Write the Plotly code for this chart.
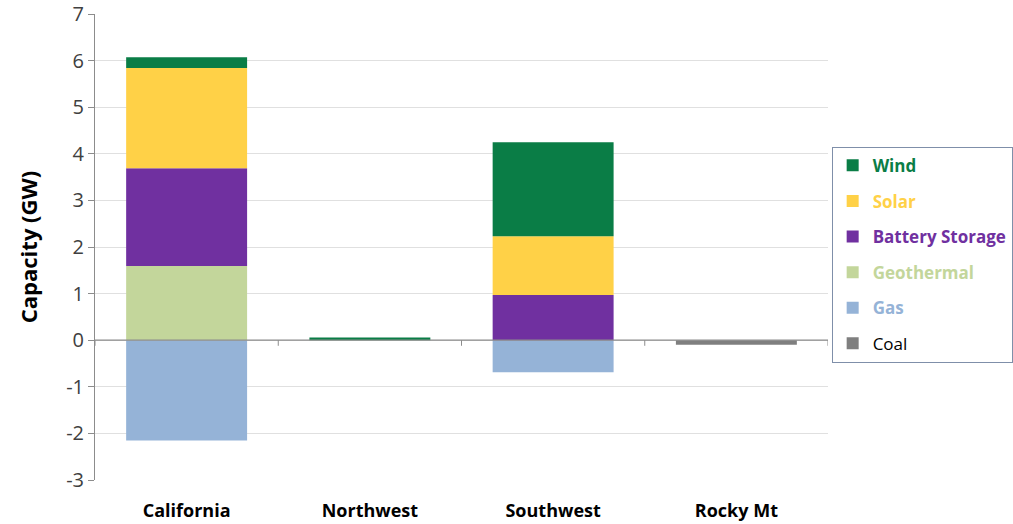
import plotly.graph_objects as go

regions = ["California", "Northwest", "Southwest", "Rocky Mt"]

# Capacity change by resource type (GW)
coal = [0, 0, 0, -0.10]
gas = [-2.15, 0, -0.69, 0]
geothermal = [1.59, 0, 0, 0]
battery = [2.10, 0, 0.97, 0]
solar = [2.15, 0, 1.26, 0]
wind = [0.23, 0.06, 2.02, 0]

y_ticks = [-3, -2, -1, 0, 1, 2, 3, 4, 5, 6, 7]
y_tick_labels = ["-3", "-2", "-1", "0", "1", "2", "3", "4", "5", "6", "7"]

# (name, values, fill, legend text colour, bold, legend rank)
series = [
    ("Coal", coal, "#7f7f7f", "#000000", False, 6),
    ("Gas", gas, "#95b3d7", "#95b3d7", True, 5),
    ("Geothermal", geothermal, "#c3d69b", "#c3d69b", True, 4),
    ("Battery Storage", battery, "#7030a0", "#7030a0", True, 3),
    ("Solar", solar, "#ffd147", "#ffd147", True, 2),
    ("Wind", wind, "#0a7d46", "#0a7d46", True, 1),
]

fig = go.Figure()
for name, vals, color, text_color, bold, rank in series:
    label = f"<b>{name}</b>" if bold else name
    fig.add_trace(go.Bar(
        x=regions,
        y=vals,
        name=f"<span style='color:{text_color}'>{label}</span>",
        marker=dict(color=color, line=dict(width=0)),
        legendgroup=name,
        legendrank=rank,
        width=0.66,
    ))

# zero line and category separators at the zero line
fig.add_shape(type="line", xref="paper", yref="y", x0=0, x1=1, y0=0, y1=0,
              line=dict(color="#8c8c8c", width=1.2), layer="above")
for i in range(len(regions) + 1):
    fig.add_shape(type="line", xref="x", yref="y", x0=i - 0.5, x1=i - 0.5,
                  y0=0, y1=-0.12, line=dict(color="#8c8c8c", width=1), layer="above")

fig.update_layout(
    width=1013, height=524,
    margin=dict(l=95, r=185, t=14, b=44, autoexpand=False),
    paper_bgcolor="white", plot_bgcolor="white",
    barmode="relative",
    bargap=0.34,
    font=dict(family="Open Sans, sans-serif", color="#404040"),
    showlegend=True,
    legend=dict(
        x=1.005, y=0.715, xanchor="left", yanchor="top",
        traceorder="grouped",
        tracegroupgap=10.5,
        font=dict(size=17),
        bordercolor="#7f8fa9", borderwidth=1,
        bgcolor="white",
        itemwidth=30,
    ),
    xaxis=dict(
        showline=False, showgrid=False, ticks="",
        tickfont=dict(size=18, color="#000000", weight="bold"),
        ticklabelstandoff=18,
        range=[-0.5, len(regions) - 0.5],
    ),
    yaxis=dict(
        range=[-3, 7],
        tickvals=y_ticks,
        ticktext=y_tick_labels,
        showgrid=True, gridcolor="#e0e0e0", gridwidth=1,
        zeroline=False,
        showline=True, linecolor="#8c8c8c", linewidth=1,
        ticks="outside", ticklen=6, tickcolor="#8c8c8c",
        tickfont=dict(size=20, color="#404040"),
        title=dict(text="<b>Capacity (GW)</b>", font=dict(size=22, color="#000000"), standoff=22),
    ),
)

fig.write_html("out.html")
